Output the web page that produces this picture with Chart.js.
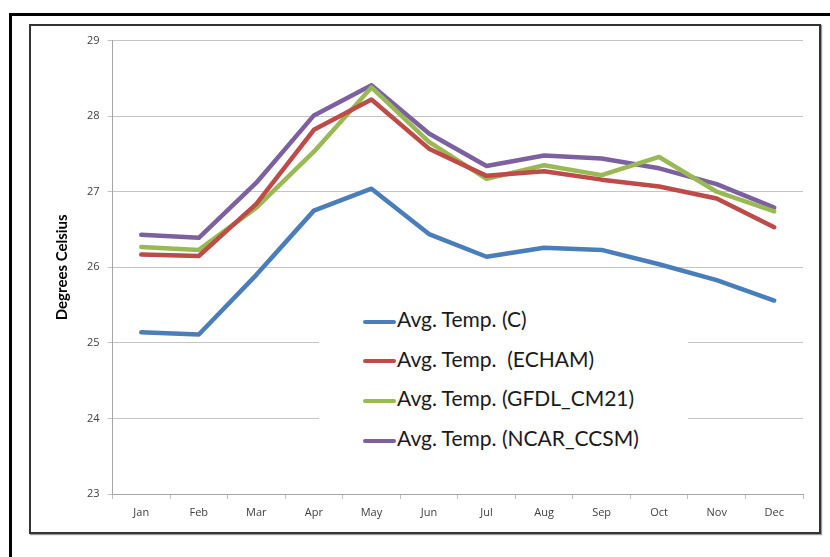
<!DOCTYPE html>
<html>
<head>
<meta charset="utf-8">
<script src="https://cdn.jsdelivr.net/npm/chart.js@4/dist/chart.umd.min.js"></script>
<style>
  html, body { margin: 0; padding: 0; background: #fff; }
  body { width: 830px; height: 557px; position: relative; overflow: hidden; }
  #outer { position: absolute; left: 9px; top: 13px; width: 900px; height: 600px;
           border-top: 3px solid #000; border-left: 3px solid #000; }
  #frame { position: absolute; left: 29px; top: 24px; width: 792px; height: 510px;
           box-sizing: border-box; border: 2px solid #333; box-shadow: 1px 1px 1px #999; background: #fff; }
  #chartBox { position: absolute; left: 31px; top: 26px; width: 788px; height: 506px; }
  #legend { position: absolute; left: 319px; top: 292px; width: 369px; height: 168px; background: #fff;
            font-family: Lato, "Open Sans", sans-serif; font-size: 21px; color: #1a1a1a; }
  .item { position: absolute; left: 44px; height: 24px; line-height: 24px; white-space: pre; }
  .item span { display: inline-block; width: 33px; height: 4px; border-radius: 2px; vertical-align: middle; margin-right: 1px; }
</style>
</head>
<body>
<div id="outer"></div>
<div id="frame"></div>
<div id="chartBox"><canvas id="myChart" width="788" height="506"></canvas></div>
<div id="legend"></div>
<script>
const months = ['Jan', 'Feb', 'Mar', 'Apr', 'May', 'Jun', 'Jul', 'Aug', 'Sep', 'Oct', 'Nov', 'Dec'];
const avg_obs = [25.14, 25.11, 25.9, 26.75, 27.04, 26.44, 26.14, 26.26, 26.23, 26.04, 25.83, 25.56];
const avg_echam = [26.17, 26.15, 26.84, 27.82, 28.22, 27.57, 27.21, 27.27, 27.16, 27.07, 26.91, 26.53];
const avg_gfdl = [26.27, 26.23, 26.79, 27.53, 28.38, 27.66, 27.17, 27.35, 27.22, 27.46, 27.0, 26.74];
const avg_ncar = [26.43, 26.39, 27.12, 28.01, 28.41, 27.77, 27.34, 27.48, 27.44, 27.31, 27.1, 26.79];
const series_names = ['Avg. Temp. (C)', 'Avg. Temp.  (ECHAM)', 'Avg. Temp. (GFDL_CM21)', 'Avg. Temp. (NCAR_CCSM)'];
const y_ticks = [23, 24, 25, 26, 27, 28, 29];

const colors = ['#4a7ebb', '#be4b48', '#98b954', '#7d60a0'];
const all_data = [avg_obs, avg_echam, avg_gfdl, avg_ncar];

const datasets = [];
for (let i = 0; i < all_data.length; i += 1) {
    datasets.push({
        label: series_names[i],
        data: all_data[i],
        borderColor: colors[i],
        backgroundColor: colors[i],
        borderWidth: 4.5,
        pointRadius: 0,
        tension: 0,
        borderJoinStyle: 'round',
        borderCapStyle: 'round'
    });
}

// legend sits inside the plot, drawn as html over the canvas
const legend = document.getElementById('legend');
for (let i = 0; i < series_names.length; i += 1) {
    const row = document.createElement('div');
    row.className = 'item';
    row.style.top = (15 + i * 39.7) + 'px';
    const swatch = document.createElement('span');
    swatch.style.background = colors[i];
    row.appendChild(swatch);
    row.appendChild(document.createTextNode(series_names[i]));
    legend.appendChild(row);
}

const ctx = document.getElementById('myChart').getContext('2d');
const myChart = new Chart(ctx, {
    type: 'line',
    data: {
        labels: months,
        datasets: datasets
    },
    options: {
        responsive: false,
        animation: false,
        layout: { padding: { left: 10, right: 16, top: 13.5, bottom: 0 } },
        plugins: {
            legend: { display: false },
            tooltip: { enabled: false }
        },
        scales: {
            x: {
                offset: true,
                grid: { offset: true, drawOnChartArea: false, drawTicks: true, tickLength: 5, color: '#bfbfbf' },
                border: { color: '#a6a6a6' },
                ticks: { color: '#404040', padding: 7, font: { family: 'Open Sans', size: 11 } },
                afterFit: function (scale) { scale.height = 38; }
            },
            y: {
                min: 23,
                max: 29,
                afterBuildTicks: function (scale) { scale.ticks = y_ticks.map(v => ({ value: v })); },
                grid: { color: '#c4c4c4', tickLength: 5 },
                border: { color: '#a6a6a6' },
                ticks: { color: '#404040', padding: 8, font: { family: 'Open Sans', size: 11 } },
                title: {
                    display: true,
                    text: 'Degrees Celsius',
                    color: '#000',
                    padding: { top: 12, bottom: 0 },
                    font: { family: 'Lato', size: 15, weight: 'bold' }
                },
                afterFit: function (scale) { scale.width = 71.5; }
            }
        }
    }
});
</script>
</body>
</html>
